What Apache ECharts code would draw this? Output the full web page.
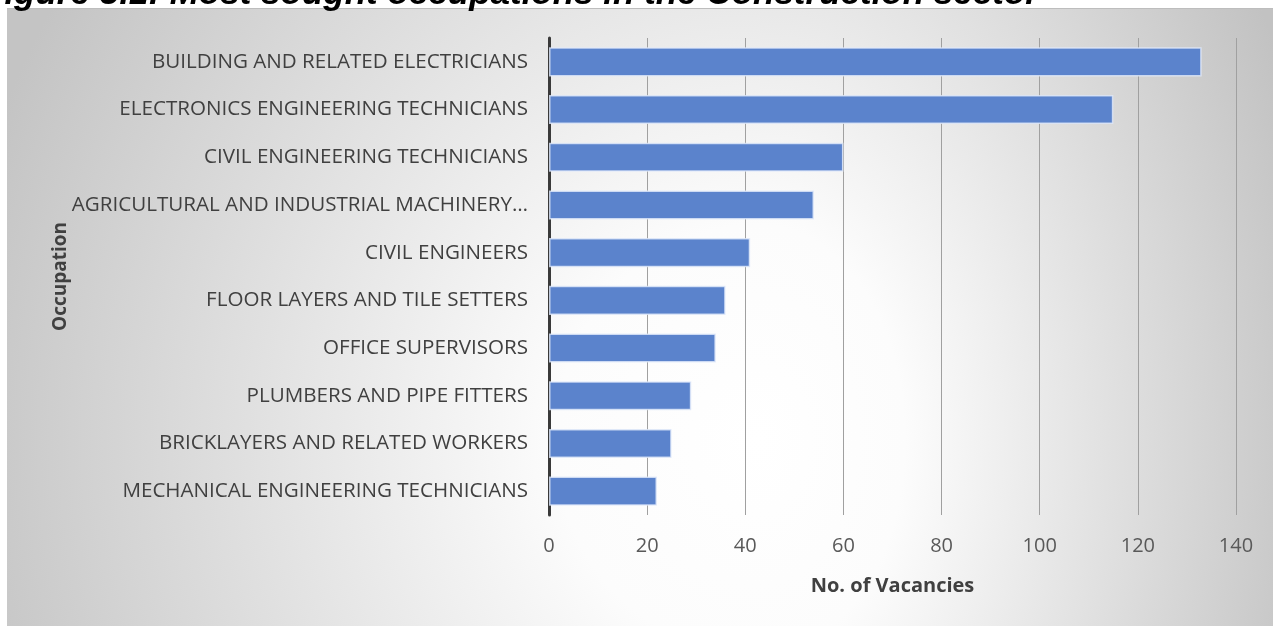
<!DOCTYPE html>
<html>
<head>
<meta charset="utf-8">
<script src="https://cdn.jsdelivr.net/npm/echarts@6/dist/echarts.min.js"></script>
<style>
html,body{margin:0;padding:0;background:#ffffff;}
#chart{width:1280px;height:626px;}
</style>
</head>
<body>
<div id="chart"></div>
<script>
const titleText = 'Figure 3.1: Most sought occupations in the Construction sector';
const categories = [
  'BUILDING AND RELATED ELECTRICIANS',
  'ELECTRONICS ENGINEERING TECHNICIANS',
  'CIVIL ENGINEERING TECHNICIANS',
  'AGRICULTURAL AND INDUSTRIAL MACHINERY…',
  'CIVIL ENGINEERS',
  'FLOOR LAYERS AND TILE SETTERS',
  'OFFICE SUPERVISORS',
  'PLUMBERS AND PIPE FITTERS',
  'BRICKLAYERS AND RELATED WORKERS',
  'MECHANICAL ENGINEERING TECHNICIANS'
];
const vacancies = [133, 115, 60, 54, 41, 36, 34, 29, 25, 22];
const xTicks = {min: 0, max: 140, interval: 20};

const chart = echarts.init(document.getElementById('chart'), null, {renderer: 'canvas'});
const FONT = '"Open Sans", "DejaVu Sans", sans-serif';
const cx = 760, cy = 440, ry = 860;
const leftScale = 820 / ry, rightScale = 580 / ry;
const option = {
  animation: false,
  graphic: [
    {
      type: 'rect', z: -10, x: 7, y: 8, scaleX: leftScale,
      shape: {x: 0, y: 0, width: (cx - 7) / leftScale, height: 618},
      style: {fill: {type: 'radial', global: true, x: (cx - 7) / leftScale, y: cy - 8, r: ry,
        colorStops: [{offset: 0, color: '#ffffff'}, {offset: 0.25, color: '#fcfcfc'}, {offset: 1, color: '#c4c4c4'}]}}
    },
    {
      type: 'rect', z: -10, x: cx, y: 8, scaleX: rightScale,
      shape: {x: 0, y: 0, width: (1273 - cx) / rightScale, height: 618},
      style: {fill: {type: 'radial', global: true, x: 0, y: cy - 8, r: ry,
        colorStops: [{offset: 0, color: '#ffffff'}, {offset: 0.25, color: '#fcfcfc'}, {offset: 1, color: '#c2c2c2'}]}}
    },
    {
      type: 'line', z: -9, shape: {x1: 7, y1: 8.5, x2: 1273, y2: 8.5},
      style: {stroke: '#bdbdbd', lineWidth: 1}
    },
    {
      type: 'text', z: 100, x: -17, y: -23,
      style: {text: titleText, font: 'italic bold 35px "Liberation Sans", Arial, sans-serif', fill: '#000000', textVerticalAlign: 'top'}
    }
  ],
  grid: {left: 549, right: 44, top: 38, bottom: 111, containLabel: false},
  xAxis: {
    type: 'value', min: xTicks.min, max: xTicks.max, interval: xTicks.interval,
    name: 'No. of Vacancies', nameLocation: 'middle', nameGap: 61, nameMoveOverlap: false,
    nameTextStyle: {fontFamily: FONT, fontSize: 20, fontWeight: 'bold', color: '#404040'},
    axisLine: {show: false}, axisTick: {show: false},
    axisLabel: {fontFamily: FONT, fontSize: 20, color: '#595959', margin: 21},
    splitLine: {show: true, lineStyle: {color: '#a0a0a0', width: 1}}
  },
  yAxis: {
    type: 'category', data: categories, inverse: true,
    name: 'Occupation', nameLocation: 'middle', nameGap: 479, nameRotate: 90, nameMoveOverlap: false,
    nameTextStyle: {fontFamily: FONT, fontSize: 19, fontWeight: 'bold', color: '#404040'},
    axisLine: {show: true, lineStyle: {color: '#3a3a3a', width: 3}},
    axisTick: {show: false},
    axisLabel: {fontFamily: FONT, fontSize: 20.6, color: '#404040', margin: 21}
  },
  series: [{
    type: 'bar', data: vacancies, barCategoryGap: '39%',
    itemStyle: {color: '#5b83cc', borderColor: 'rgba(225,234,250,0.8)', borderWidth: 1.5}
  }]
};
chart.setOption(option);
</script>
</body>
</html>
